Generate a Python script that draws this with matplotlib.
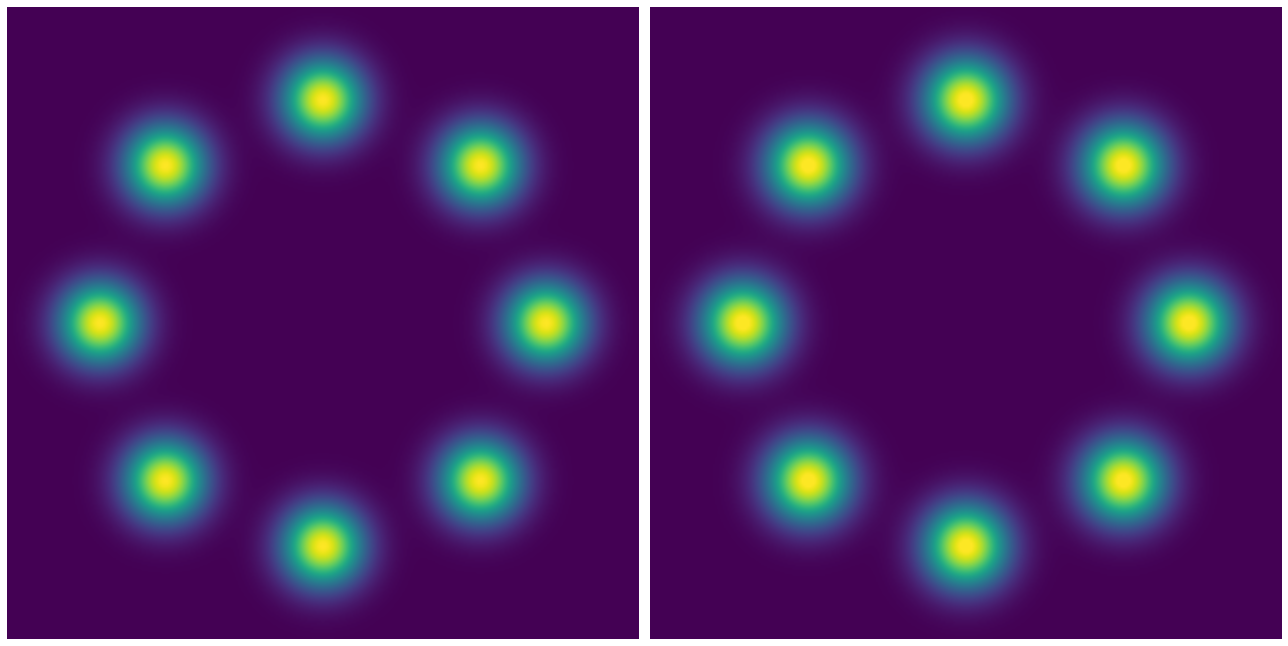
"""Eight-gaussian ring: target density (left) and sample density (right)."""
import numpy as np
import matplotlib; matplotlib.use('Agg'); import matplotlib.pyplot as plt

# ring of 8 mixture components (data units, range [-4, 4])
centers_x = [2.83, -2.83, 0.0, 0.0, 2.0, 2.0, -2.0, -2.0]
centers_y = [0.0, 0.0, 2.83, -2.83, 2.0, -2.0, 2.0, -2.0]
sigma = 0.354
lims = [-4, 4]
n_bins = 400

def mixture(xx, yy, s):
    d = np.zeros_like(xx)
    for cx, cy in zip(centers_x, centers_y):
        d += np.exp(-((xx-cx)**2 + (yy-cy)**2)/(2*s**2))
    return d / (2*np.pi*s**2*len(centers_x))

g = np.linspace(lims[0], lims[1], n_bins)
xx, yy = np.meshgrid(g, g)
dens_true = mixture(xx, yy, sigma)
dens_samp = mixture(xx, yy, sigma*1.03)

fig = plt.figure(figsize=(12.88, 6.46), dpi=100)
ax1 = fig.add_axes([7/1288, 7/646, 632/1288, 632/646])
ax2 = fig.add_axes([650/1288, 7/646, 632/1288, 632/646])
for ax, d, top in [(ax1, dens_true, 1.0), (ax2, dens_samp, 0.98)]:
    ax.imshow(d, cmap='viridis', origin='lower', extent=lims+lims, aspect='auto',
              interpolation='bilinear', vmin=0, vmax=d.max()*top)
    ax.set_axis_off()
plt.savefig('out.png', dpi=100); print('saved out.png')
